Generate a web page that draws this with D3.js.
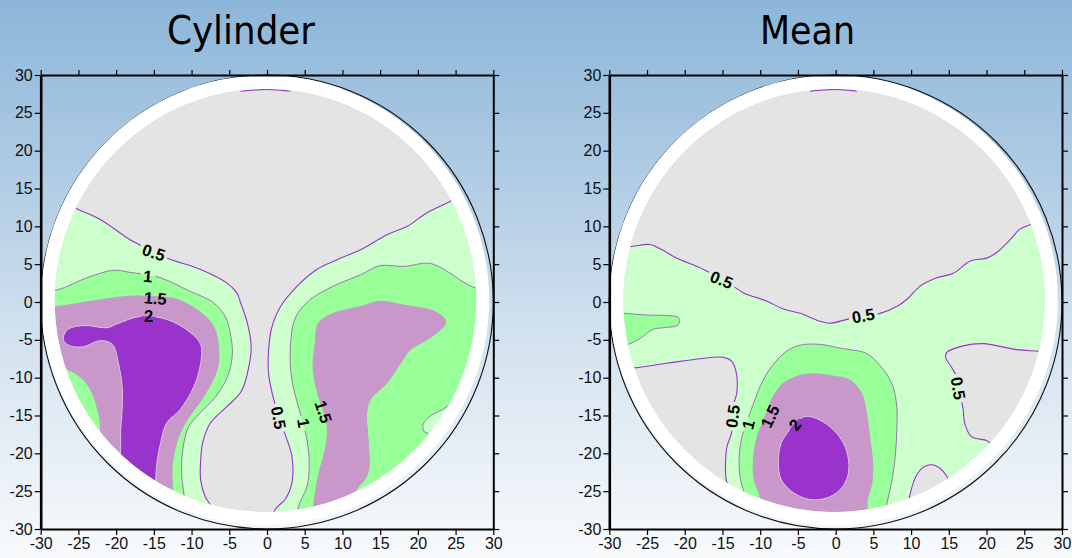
<!DOCTYPE html>
<html><head><meta charset="utf-8">
<script src="https://cdn.jsdelivr.net/npm/d3@7"></script>
<style>html,body{margin:0;padding:0;}body{width:1072px;height:558px;overflow:hidden;}</style>
</head><body><svg id="chart" width="1072" height="558"></svg>
<script>
// ---------- data ----------
const tickValues = [-30,-25,-20,-15,-10,-5,0,5,10,15,20,25,30];
const levels = [0.5, 1, 1.5, 2];
const titles = ["Cylinder", "Mean"];

// Cylinder contour regions (x, y in data units)
const cylAbove05Left = [[-28.5,14.5],[-25.3,12.4],[-22.1,10.9],[-18.1,8.2],[-15.5,6.9],[-13.3,5.8],[-8.8,4.3],[-5.3,2.5],[-4.0,1.2],[-3.5,-0.1],[-2.6,-2.8],[-2.1,-5.9],[-2.4,-8.5],[-3.4,-11.8],[-5.5,-14.0],[-7.5,-16.0],[-8.5,-18.5],[-8.8,-21.0],[-8.8,-23.5],[-8.2,-25.7],[-7.3,-27.2],[-6.5,-30.5],[-20,-31],[-32,-20],[-32,0],[-32,13]];
const cylAbove05Right = [[28,15.5],[24.5,13.4],[21.2,11.8],[18.6,10.0],[15.9,8.9],[12.4,6.9],[9.3,5.6],[6.6,4.3],[4.0,2.1],[1.8,-0.6],[0.6,-3.5],[0.2,-6.5],[0.2,-9.4],[0.9,-12.9],[2.2,-16.9],[3.3,-20.4],[3.3,-23.9],[2.4,-26.1],[1.1,-27.4],[0.3,-30.5],[20,-31],[32,-20],[32,0],[32,14]];
const cylAbove1Left = [[-31.5,1.4],[-27.8,1.6],[-23.9,3.2],[-20.3,4.2],[-18.1,3.9],[-16.5,3.7],[-14.1,3.2],[-10.6,1.6],[-7.1,-0.1],[-5.5,-2.0],[-4.8,-4.5],[-4.6,-7.0],[-5.2,-9.8],[-6.8,-12.5],[-9.0,-14.8],[-10.4,-16.5],[-11.0,-18.5],[-11.3,-21.0],[-11.3,-23.0],[-11.0,-25.5],[-10.6,-30],[-20,-31],[-32,-20]];
const cylAbove1Right = [[32,1.5],[27.8,1.8],[25.6,2.9],[24.3,3.8],[21.6,5.1],[18.1,4.7],[15.0,4.8],[12.4,3.6],[8.8,2.1],[5.7,0.3],[3.8,-2.0],[3.1,-5.9],[3.3,-10.3],[4.4,-14.7],[5.3,-18.2],[5.6,-21.7],[5.3,-24.4],[4.2,-27.0],[3.8,-30.5],[15,-31],[23.5,-21.5],[21.4,-17.4],[20.8,-17.1],[20.7,-16.2],[21.6,-15.1],[23.9,-13.8],[26.2,-11.2],[31,-8]];
const cylAbove15Left = [[-31.5,-0.5],[-28.1,-0.6],[-23.4,0.1],[-19.0,0.7],[-14.8,0.8],[-12.4,0.5],[-9.3,-1.0],[-7.1,-3.2],[-6.4,-6.3],[-6.6,-8.9],[-8.4,-12.5],[-10.6,-15.6],[-11.7,-17.8],[-12.4,-20.4],[-12.6,-23.0],[-12.4,-25.7],[-12.3,-29.5],[-18,-27],[-23.5,-21.5],[-22.1,-16.9],[-23.0,-12.5],[-24.3,-10.3],[-26.5,-8.9],[-28.5,-8.4],[-31.5,-8.5]];
const cylAbove15Right = [[6.8,-2.8],[8.8,-1.5],[12.4,-0.6],[15.0,0.1],[18.1,-0.4],[22.1,-1.2],[23.6,-2.3],[23.6,-3.0],[21.2,-5.0],[19.0,-6.3],[17.7,-8.1],[15.9,-10.7],[13.7,-12.9],[13.2,-14.7],[13.3,-16.9],[13.5,-19.5],[13.5,-22.2],[12.8,-23.7],[11.9,-24.8],[11.5,-29],[6.0,-29.5],[6.2,-26.6],[6.8,-23.0],[7.7,-19.5],[8.0,-16.9],[7.5,-14.7],[6.8,-12.5],[6.3,-10.3],[6.1,-8.1],[6.4,-5.4]];
const cylAbove2 = [[-27.0,-5.0],[-26.5,-3.7],[-24.3,-3.1],[-21.2,-3.4],[-19.9,-2.9],[-16.8,-1.9],[-13.3,-2.3],[-10.6,-3.7],[-8.8,-5.6],[-8.8,-8.1],[-9.7,-11.2],[-11.5,-14.2],[-13.3,-16.0],[-14.1,-18.6],[-14.6,-21.3],[-14.8,-24.5],[-15,-29],[-19,-27],[-19.6,-23],[-19.4,-19.5],[-19.4,-16.9],[-19.2,-14.2],[-19.2,-11.2],[-19.7,-8.1],[-20.5,-5.6],[-22.1,-5.1],[-24.3,-5.9],[-26.1,-5.8]];
const cylTopSegment = [[-3.5,27.85],[0,28.1],[3.1,27.85]];
const cylLabels = [
  {t:"0.5", x:-15.0, y:6.55, a:18}, {t:"1", x:-15.8, y:3.4, a:5}, {t:"1.5", x:-14.8, y:0.5, a:5},
  {t:"2", x:-15.7, y:-1.9, a:0}, {t:"0.5", x:1.55, y:-15.3, a:80}, {t:"1", x:4.85, y:-16.0, a:80},
  {t:"1.5", x:7.5, y:-14.5, a:72}
];

// Mean contour regions
const meanAbove05 = [[-31,7.2],[-27.3,7.3],[-24.6,7.6],[-23.0,6.9],[-21.1,5.8],[-17.5,4.3],[-13.6,2.1],[-12.2,1.2],[-9.1,0.1],[-7.0,-0.9],[-4.7,-1.5],[-2.2,-2.5],[-0.8,-2.8],[1.9,-2.2],[3.8,-1.9],[5.9,-1.5],[8.1,-0.6],[9.6,0.5],[11.2,2.1],[13.4,3.2],[15.6,3.8],[17.8,5.4],[20.0,5.8],[21.3,6.5],[23.1,8.2],[24.4,9.6],[26.0,10.3],[29,12],[32,0],[31,-20],[0,-32],[-31,-20],[-32,0]];
const meanBelow05Left = [[-30,-8.8],[-26.6,-8.7],[-22.4,-8.1],[-18.0,-7.5],[-14.9,-7.3],[-13.8,-7.8],[-13.2,-9.2],[-13.1,-12.0],[-13.6,-13.8],[-13.8,-17.3],[-14.4,-19.1],[-14.6,-21.3],[-14.5,-23.5],[-14.2,-24.4],[-14.5,-28],[-22,-24]];
const meanBelow05Right = [[30,-6.8],[26.9,-6.5],[24.0,-6.3],[19.6,-5.5],[16.9,-5.8],[14.7,-6.7],[14.6,-7.4],[15.4,-8.7],[16.0,-9.8],[16.7,-13.1],[16.9,-14.2],[17.1,-16.0],[18.0,-17.8],[20.0,-18.3],[20.4,-18.6],[23,-21],[31,-12]];
const meanBelow05Bottom = [[9.5,-29],[9.8,-25.7],[10.9,-22.6],[12.1,-21.6],[13.4,-21.7],[14.7,-23.0],[16,-27]];
const meanAbove1 = [[-12.3,-29],[-12.0,-25.9],[-12.6,-23.5],[-12.8,-20.9],[-12.5,-18.2],[-11.8,-16.0],[-10.7,-12.9],[-9.6,-10.3],[-8.3,-8.3],[-6.5,-6.5],[-4.7,-5.7],[-2.1,-5.6],[0.6,-6.1],[1.9,-6.3],[4.1,-6.8],[6.3,-8.9],[7.6,-11.2],[8.1,-13.8],[8.1,-16.9],[7.9,-20.4],[7.4,-23.9],[6.8,-26.6],[6.3,-30],[0,-31]];
const meanAbove1Left = [[-31,-1.4],[-27.9,-1.5],[-25.5,-1.7],[-22.4,-1.8],[-20.9,-2.0],[-20.7,-2.6],[-21.0,-3.1],[-22.8,-3.4],[-24.2,-3.6],[-25.9,-4.8],[-27.5,-5.6],[-31,-6.5]];
const meanAbove15 = [[-10.2,-29],[-10.0,-25.9],[-10.8,-23.5],[-10.9,-20.9],[-10.5,-18.2],[-9.6,-15.6],[-8.3,-12.5],[-6.9,-10.7],[-4.7,-9.7],[-2.5,-9.5],[-0.3,-9.8],[1.9,-10.3],[3.4,-12.0],[4.1,-14.7],[4.5,-17.8],[4.9,-21.3],[4.8,-23.9],[4.2,-26.1],[3.9,-29],[0,-30]];
const meanAbove2 = [[-3.8,-15.1],[-2.1,-15.6],[-0.3,-16.9],[1.0,-18.6],[1.7,-20.8],[1.6,-23.0],[0.6,-24.8],[-1.2,-25.9],[-3.4,-26.1],[-5.6,-25.2],[-7.2,-23.5],[-7.6,-21.1],[-7.2,-18.6],[-6.1,-16.9],[-5.0,-15.6]];
const meanTopSegment = [[-3.4,27.85],[0,28.1],[2.8,27.85]];
const meanLabels = [
  {t:"0.5", x:-15.1, y:2.95, a:22}, {t:"0.5", x:3.65, y:-1.8, a:-10}, {t:"0.5", x:16.25, y:-11.4, a:80},
  {t:"0.5", x:-13.65, y:-15.1, a:-82}, {t:"1", x:-11.6, y:-16.2, a:-75}, {t:"1.5", x:-8.7, y:-15.1, a:-65},
  {t:"2", x:-5.4, y:-16.2, a:-50}
];

// ---------- styles ----------
const fillBelow = "#e4e4e4";
const levelFill = {"0.5":"#ccffcc","1":"#99ff99","1.5":"#c997c9","2":"#9933cc"};
const levelLine = {"0.5":"#9933cc","1":"#9a78b0","1.5":"#b9a2c6","2":"#d8c6e6"};

const panels = [
  {id:"cyl", title:titles[0], xRange:[40.7,493.3], titleX:241, titleLen:148,
   layers:[
     {lvl:"0.5", fill:levelFill["0.5"], shapes:[cylAbove05Left, cylAbove05Right]},
     {lvl:"1", fill:levelFill["1"], shapes:[cylAbove1Left, cylAbove1Right]},
     {lvl:"1.5", fill:levelFill["1.5"], shapes:[cylAbove15Left, cylAbove15Right]},
     {lvl:"2", fill:levelFill["2"], shapes:[cylAbove2]}
   ], top:cylTopSegment, labels:cylLabels},
  {id:"mean", title:titles[1], xRange:[609.3,1062], titleX:807.5, titleLen:95,
   layers:[
     {lvl:"0.5", fill:levelFill["0.5"], shapes:[meanAbove05]},
     {lvl:"0.5", fill:fillBelow, shapes:[meanBelow05Left, meanBelow05Right, meanBelow05Bottom]},
     {lvl:"1", fill:levelFill["1"], shapes:[meanAbove1, meanAbove1Left]},
     {lvl:"1.5", fill:levelFill["1.5"], shapes:[meanAbove15]},
     {lvl:"2", fill:levelFill["2"], shapes:[meanAbove2]}
   ], top:meanTopSegment, labels:meanLabels}
];

const innerC = [-0.2, 0.2], innerR = 27.95;
const ringC = [-0.25, 0.25], ringR = 29.7;

// ---------- drawing ----------
const svg = d3.select("#chart");
const defs = svg.append("defs");
const grad = defs.append("linearGradient").attr("id","bg").attr("x1",0).attr("y1",0).attr("x2",0).attr("y2",1);
[[0,"#8cb6d9"],[0.35,"#b4cee5"],[0.62,"#d5e3f0"],[1,"#f8fafc"]].forEach(s =>
  grad.append("stop").attr("offset",s[0]).attr("stop-color",s[1]));
svg.append("rect").attr("width",1072).attr("height",558).attr("fill","url(#bg)");

function ellipsePath(cx, cy, rx, ry){
  return `M${cx-rx},${cy}a${rx},${ry} 0 1,0 ${2*rx},0a${rx},${ry} 0 1,0 ${-2*rx},0Z`;
}

panels.forEach(cfg => {
  const x = d3.scaleLinear().domain([-30,30]).range(cfg.xRange);
  const y = d3.scaleLinear().domain([-30,30]).range([529,75]);
  const kx = x(1)-x(0), ky = y(0)-y(1);
  const id = cfg.id;

  defs.append("clipPath").attr("id","clip-"+id).append("ellipse")
    .attr("cx",x(innerC[0])).attr("cy",y(innerC[1])).attr("rx",innerR*kx).attr("ry",innerR*ky);

  const closed = d3.line().x(d=>x(d[0])).y(d=>y(d[1])).curve(d3.curveCatmullRomClosed.alpha(0.5));
  const open = d3.line().x(d=>x(d[0])).y(d=>y(d[1])).curve(d3.curveCatmullRom.alpha(0.5));

  const plot = svg.append("g").attr("clip-path",`url(#clip-${id})`);
  plot.append("rect").attr("x",x(-30)).attr("y",y(30)).attr("width",x(30)-x(-30)).attr("height",y(-30)-y(30)).attr("fill",fillBelow);
  cfg.layers.forEach(L => L.shapes.forEach(s =>
    plot.append("path").attr("d",closed(s)).attr("fill",L.fill)));
  const lines = plot.append("g").attr("mask",`url(#mask-${id})`);
  cfg.layers.forEach(L => L.shapes.forEach(s =>
    lines.append("path").attr("d",closed(s)).attr("fill","none")
      .attr("stroke",levelLine[L.lvl]).attr("stroke-width",L.lvl==="0.5"?1.1:1)));

  svg.append("path").attr("d",open(cfg.top)).attr("fill","none").attr("stroke",levelLine["0.5"]).attr("stroke-width",1.1);

  svg.append("ellipse").attr("cx",x(0)).attr("cy",y(0)).attr("rx",30*kx).attr("ry",30*ky)
    .attr("fill","none").attr("stroke","#111").attr("stroke-width",1.1);
  svg.append("path")
    .attr("d", ellipsePath(x(ringC[0]),y(ringC[1]),ringR*kx,ringR*ky) + ellipsePath(x(innerC[0]),y(innerC[1]),innerR*kx,innerR*ky))
    .attr("fill","#ffffff").attr("fill-rule","evenodd");

  const fmt = d => String(d);
  const axStyle = (g, w) => {
    g.select(".domain").attr("stroke","#000").attr("stroke-width",w);
    g.selectAll(".tick line").attr("stroke","#000").attr("stroke-width",1.2);
    g.selectAll(".tick text").attr("fill","#111").style("font-family","'Liberation Sans', Arial, sans-serif").style("font-size","16px");
  };
  svg.append("g").attr("transform",`translate(0,${y(-30)})`)
    .call(d3.axisBottom(x).tickValues(tickValues).tickSize(6).tickPadding(3).tickSizeOuter(0).tickFormat(fmt))
    .call(g => axStyle(g,2));
  svg.append("g").attr("transform",`translate(0,${y(30)})`)
    .call(d3.axisTop(x).tickValues(tickValues).tickSize(5).tickSizeOuter(0).tickFormat(""))
    .call(g => axStyle(g,2));
  svg.append("g").attr("transform",`translate(${x(30)},0)`)
    .call(d3.axisRight(y).tickValues(tickValues).tickSize(6).tickSizeOuter(0).tickFormat(""))
    .call(g => axStyle(g,2));
  svg.append("g").attr("transform",`translate(${x(-30)},0)`)
    .call(d3.axisLeft(y).tickValues(tickValues).tickSize(6).tickPadding(2).tickSizeOuter(0).tickFormat(fmt))
    .call(g => axStyle(g,2.6));

  const mask = defs.append("mask").attr("id","mask-"+id).attr("maskUnits","userSpaceOnUse")
    .attr("x",0).attr("y",0).attr("width",1072).attr("height",558);
  mask.append("rect").attr("x",0).attr("y",0).attr("width",1072).attr("height",558).attr("fill","#fff");
  const lab = svg.append("g");
  cfg.labels.forEach(d => {
    const t = lab.append("text")
      .attr("transform",`translate(${x(d.x)},${y(d.y)}) rotate(${d.a})`)
      .attr("text-anchor","middle").attr("dy","0.36em")
      .style("font-family","'Liberation Sans', Arial, sans-serif").style("font-size","16.5px").style("font-weight","bold")
      .attr("fill","#000").text(d.t);
    const w = t.node().getComputedTextLength() + 6;
    mask.append("rect").attr("transform",`translate(${x(d.x)},${y(d.y)}) rotate(${d.a})`)
      .attr("x",-w/2).attr("y",-7.5).attr("width",w).attr("height",15).attr("fill","#000");
  });

  svg.append("text").attr("x",cfg.titleX).attr("y",44).attr("text-anchor","middle")
    .attr("textLength",cfg.titleLen).attr("lengthAdjust","spacingAndGlyphs")
    .style("font-family","'DejaVu Sans', Verdana, sans-serif").style("font-size","39px")
    .attr("fill","#000").text(cfg.title);
});
</script></body></html>
